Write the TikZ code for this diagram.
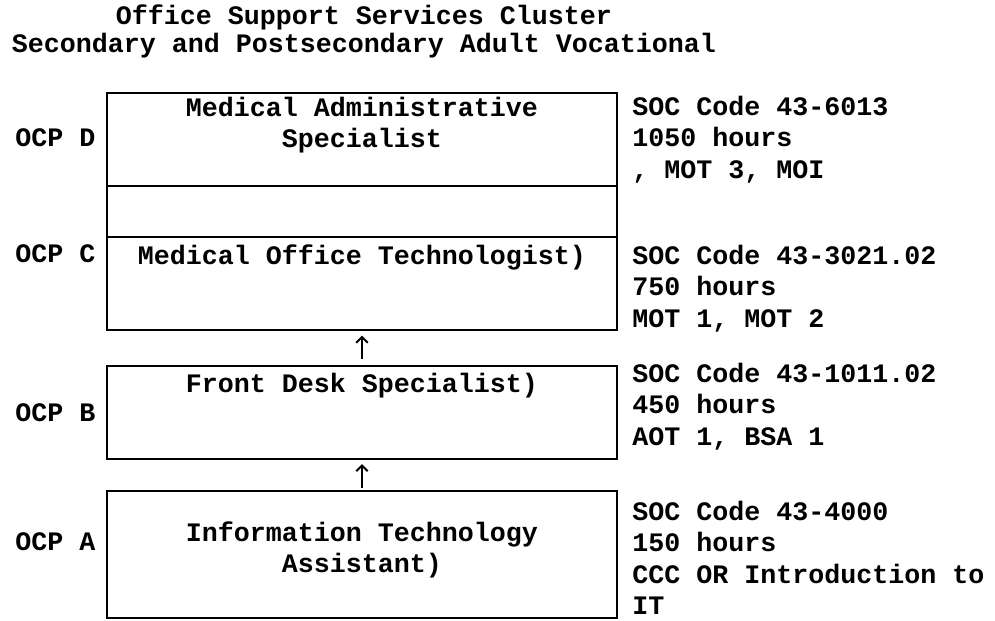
\documentclass[tikz,border=0pt]{standalone}
\usepackage{fontspec}
\setmainfont{Liberation Mono}
\usetikzlibrary{positioning, arrows.meta}
\tikzset{
  font=\fontsize{12}{14.2}\selectfont\bfseries,
  % Set arrowhead
  >={Straight Barb[length=2.6pt, width=5.2pt]},
  % Level box
  lvl/.style={draw, line width=0.9pt, minimum width=229.5pt, inner sep=0pt,
    outer sep=0pt},
  % Text in a level box
  lvltext/.style={inner sep=0pt, align=center},
  % OCP label
  ocp/.style={anchor=west, inner sep=0pt},
  % Info on the right
  info/.style={anchor=north west, inner sep=0pt, align=left},
  % Step arrows
  stepup/.style={->, line width=0.9pt},
}

\begin{document}
\begin{tikzpicture}[x=0.45pt, y=-0.45pt]
  \useasboundingbox (0,0) rectangle (995,620);

  \node[align=center, inner sep=0pt, font=\fontsize{12}{12.6}\selectfont\bfseries]
    (title) at (364,31) {Office Support Services Cluster\\
    Secondary and Postsecondary Adult Vocational};

  % Levels
  \node[lvl, minimum height=41.85pt] (D) at (362,139.5) {};
  \node[lvl, minimum height=22.95pt, below=0pt of D] (gap) {};
  \node[lvl, minimum height=41.85pt, below=0pt of gap] (C) {};
  \node[lvl, minimum height=41.85pt, below=16.2pt of C] (B) {};
  \node[lvl, minimum height=57.15pt, below=14.4pt of B] (A) {};

  \node[lvltext, below=1.6pt of D.north] (Dtext) {Medical Administrative\\Specialist};
  \node[lvltext, below=3.5pt of C.north] (Ctext) {Medical Office Technologist)};
  \node[lvltext, below=3.2pt of B.north] (Btext) {Front Desk Specialist)};
  \node[lvltext, yshift=2pt] (Atext) at (A) {Information Technology\\Assistant)};

  \node[ocp] (ocpD) at (15,138) {OCP D};
  \node[ocp] (ocpC) at (15,254) {OCP C};
  \node[ocp] (ocpB) at (15,413) {OCP B};
  \node[ocp] (ocpA) at (15,542) {OCP A};

  \node[info] (Dinfo) at (632,95.5) {SOC Code 43-6013\\1050 hours\\, MOT 3, MOI};
  \node[info] (Cinfo) at (632,244.5) {SOC Code 43-3021.02\\750 hours\\MOT 1, MOT 2};
  \node[info] (Binfo) at (632,362.5) {SOC Code 43-1011.02\\450 hours\\AOT 1, BSA 1};
  \node[info] (Ainfo) at (632,500.5) {SOC Code 43-4000\\150 hours\\CCC OR Introduction to\\IT};

  \draw[stepup, shorten <=3.15pt, shorten >=2.5pt] (B) -- (C);
  \draw[stepup, shorten <=1.35pt, shorten >=2.25pt] (A) -- (B);
\end{tikzpicture}
\end{document}
